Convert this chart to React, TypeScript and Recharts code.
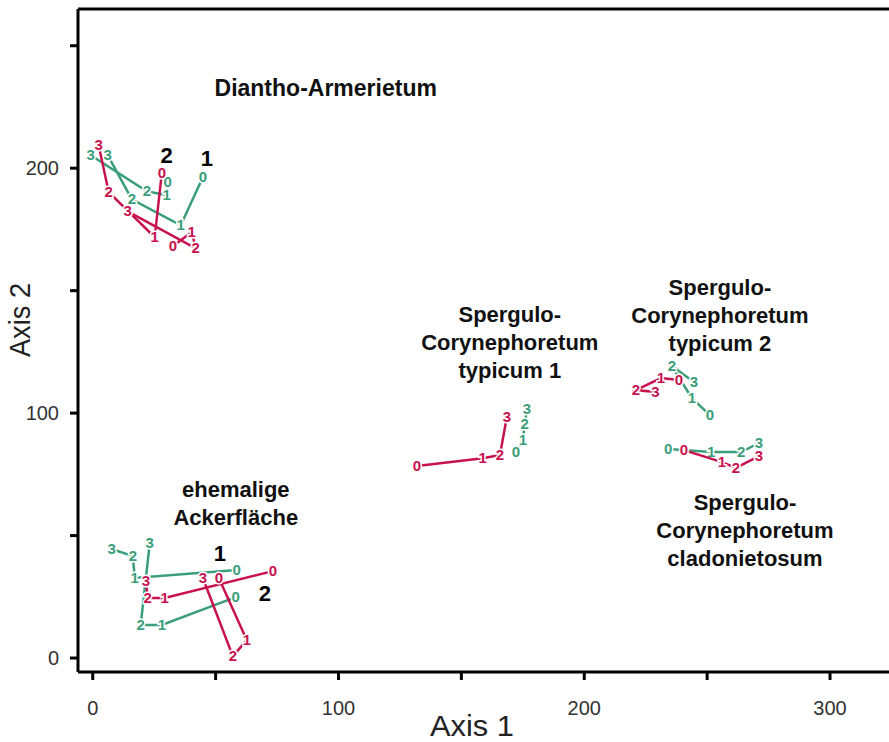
import { Label, ReferenceLine, Scatter, ScatterChart, XAxis, YAxis } from "recharts";

const GREEN = "#3a9e7a";
const RED = "#c8124f";

// sampling years 0..3, one label per point
const steps = ["0", "1", "2", "3"];

// Diantho-Armerietum
const diaGreen1 = [[44.8, 196.3], [35.8, 176.7], [15.9, 187.3], [6.1, 205.3]];
const diaGreen2 = [[30.5, 194.3], [30.1, 189.0], [22.0, 190.6], [-0.8, 205.3]];
const diaRed1 = [[28.1, 198.0], [25.2, 171.8], [6.5, 190.2], [2.4, 209.4]];
const diaRed2 = [[32.6, 168.2], [40.3, 173.9], [41.9, 167.3], [14.2, 182.4]];

// ehemalige Ackerfläche
const ackGreen1 = [[58.6, 35.9], [17.1, 32.7], [16.3, 41.6], [7.7, 44.5]];
const ackGreen2 = [[58.2, 24.9], [28.1, 13.5], [19.5, 13.5], [23.2, 46.9]];
const ackRed1 = [[73.3, 35.5], [29.3, 24.5], [22.4, 24.5], [21.6, 31.4]];
const ackRed2 = [[51.3, 32.7], [62.7, 7.3], [57.0, 0.8], [44.8, 32.7]];

// Spergulo-Corynephoretum typicum 1
const typ1Red = [[131.9, 78.4], [158.7, 81.6], [165.7, 82.9], [168.5, 98.4]];
const typ1Green = [[172.2, 84.1], [175.0, 89.0], [175.8, 95.5], [176.7, 101.6]];

// Spergulo-Corynephoretum typicum 2
const typ2Green = [[251.1, 99.2], [243.8, 106.1], [235.7, 119.2], [244.6, 112.7]];
const typ2Red = [[238.5, 113.5], [231.2, 114.3], [221.0, 109.4], [229.0, 108.6]];

// Spergulo-Corynephoretum cladonietosum
const cladGreen = [[234.1, 85.3], [251.6, 84.1], [263.8, 84.1], [271.1, 87.8]];
const cladRed = [[240.6, 84.9], [256.0, 80.0], [261.7, 77.6], [271.1, 82.4]];

const xTicks = [0, 50, 100, 150, 200, 250, 300];
const yTicks = [0, 50, 100, 150, 200, 250];

// community names and plot numbers, placed in axis units
const communityNames = [
  ["Diantho-Armerietum"],
  ["Spergulo-", "Corynephoretum", "typicum 1"],
  ["Spergulo-", "Corynephoretum", "typicum 2"],
  ["Spergulo-", "Corynephoretum", "cladonietosum"],
  ["ehemalige", "Ackerfläche"],
];
const communityAt = [[94.8, 232.7], [169.7, 129.0], [255.2, 140.0], [265.4, 52.2], [58.2, 63.3]];

const plotNames = ["2", "1", "1", "2"];
const plotAt = [[30.1, 205.3], [46.4, 204.1], [51.7, 42.9], [70.0, 26.5]];

const series = [
  { pts: diaGreen1, color: GREEN },
  { pts: diaGreen2, color: GREEN },
  { pts: diaRed1, color: RED },
  { pts: diaRed2, color: RED },
  { pts: ackGreen1, color: GREEN },
  { pts: ackGreen2, color: GREEN },
  { pts: ackRed1, color: RED },
  { pts: ackRed2, color: RED },
  { pts: typ1Red, color: RED },
  { pts: typ1Green, color: GREEN },
  { pts: typ2Green, color: GREEN },
  { pts: typ2Red, color: RED },
  { pts: cladGreen, color: GREEN },
  { pts: cladRed, color: RED },
];

const toPoints = (pts: number[][]) => pts.map(([x, y], i) => ({ x, y, step: steps[i] }));

const communityData = communityAt.map(([x, y], i) => ({ x, y, lines: communityNames[i] }));
const plotData = plotAt.map(([x, y], i) => ({ x, y, name: plotNames[i] }));

const FONT = "'Liberation Sans', Arial, sans-serif";

const stepShape = (color: string) => (props: any) => (
  <text
    x={props.cx}
    y={props.cy}
    dy={5}
    textAnchor="middle"
    fontFamily={FONT}
    fontSize={15}
    fontWeight={700}
    fill={color}
    stroke="#fff"
    strokeWidth={3}
    paintOrder="stroke"
  >
    {props.payload.step}
  </text>
);

const communityShape = (props: any) => {
  const lines: string[] = props.payload.lines;
  const size = lines.length === 1 ? 23 : 22;
  const first = props.cy - ((lines.length - 1) * 28) / 2 + 8;
  return (
    <text x={props.cx} y={first} textAnchor="middle" fontFamily={FONT} fontSize={size} fontWeight={700} fill="#111">
      {lines.map((l, i) => (
        <tspan key={i} x={props.cx} dy={i === 0 ? 0 : 28}>
          {l}
        </tspan>
      ))}
    </text>
  );
};

const plotShape = (props: any) => (
  <text x={props.cx} y={props.cy + 8} textAnchor="middle" fontFamily={FONT} fontSize={22} fontWeight={700} fill="#000">
    {props.payload.name}
  </text>
);

const XTick = (props: any) => {
  const v = props.payload.value;
  if (v % 100 !== 0) return null;
  return (
    <text x={props.x} y={props.y + 35} textAnchor="middle" fontFamily={FONT} fontSize={20} fill="#333">
      {v}
    </text>
  );
};

const YTick = (props: any) => {
  const v = props.payload.value;
  if (v % 100 !== 0) return null;
  return (
    <text x={props.x - 11} y={props.y + 7} textAnchor="end" fontFamily={FONT} fontSize={20} fill="#333">
      {v}
    </text>
  );
};

export default function App() {
  return (
    <div style={{ position: "absolute", left: 0, top: 0, background: "#fff" }}>
      <ScatterChart width={889} height={742} margin={{ top: 9, right: 0, bottom: 30, left: 18 }}>
        <XAxis
          type="number"
          dataKey="x"
          domain={[-6, 324]}
          ticks={xTicks}
          allowDataOverflow
          height={40}
          axisLine={{ stroke: "#000", strokeWidth: 3 }}
          tickLine={{ stroke: "#000", strokeWidth: 3 }}
          tickSize={8}
          tickMargin={0}
          tick={<XTick />}
        >
          <Label
            content={() => (
              <text x={472} y={736} textAnchor="middle" fontFamily={FONT} fontSize={30} fill="#222" textLength={84} lengthAdjust="spacingAndGlyphs">
                Axis 1
              </text>
            )}
          />
        </XAxis>
        <YAxis
          type="number"
          dataKey="y"
          domain={[-5.7, 265]}
          ticks={yTicks}
          allowDataOverflow
          width={60}
          axisLine={{ stroke: "#000", strokeWidth: 3 }}
          tickLine={{ stroke: "#000", strokeWidth: 3 }}
          tickSize={8}
          tickMargin={0}
          tick={<YTick />}
        >
          <Label
            content={() => (
              <text
                x={30}
                y={320}
                transform="rotate(-90 30 320)"
                textAnchor="middle"
                fontFamily={FONT}
                fontSize={30}
                fill="#222"
                textLength={74}
                lengthAdjust="spacingAndGlyphs"
              >
                Axis 2
              </text>
            )}
          />
        </YAxis>
        <ReferenceLine y={265} stroke="#000" strokeWidth={3} />
        {series.map((s, i) => (
          <Scatter
            key={i}
            data={toPoints(s.pts)}
            line={{ stroke: s.color, strokeWidth: 2.5 }}
            shape={stepShape(s.color)}
            isAnimationActive={false}
          />
        ))}
        <Scatter data={communityData} shape={communityShape} isAnimationActive={false} />
        <Scatter data={plotData} shape={plotShape} isAnimationActive={false} />
      </ScatterChart>
    </div>
  );
}
